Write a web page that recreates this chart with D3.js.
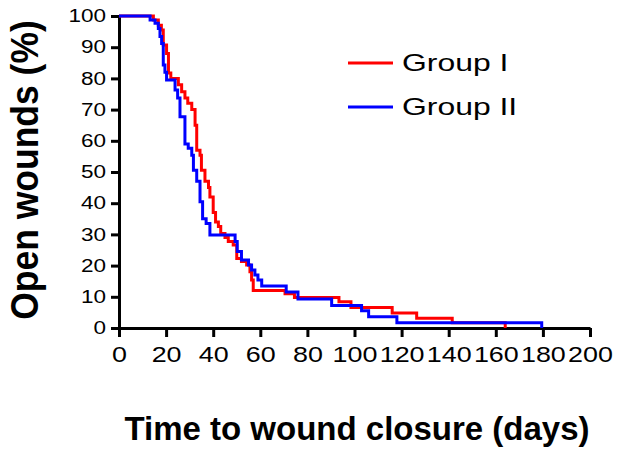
<!DOCTYPE html>
<html>
<head>
<meta charset="utf-8">
<script src="https://cdn.jsdelivr.net/npm/d3@7"></script>
<style>
  body { margin: 0; background: #fff; }
  svg { display: block; }
</style>
</head>
<body>
<script>
var width = 617;
var height = 453;
var font = "'Liberation Sans', Arial, sans-serif";

// time (days) at which the curve steps down to the given % of open wounds
var groupIDays = [0, 14.6, 16.7, 18, 18.8, 20.2, 21, 22, 25.2, 26.6, 28, 29.2, 30.9, 32.3, 33, 34.4, 35, 36.5, 38, 38.6, 40, 41, 42.2, 43.2, 45, 46.4, 48.5, 50, 52, 54.2, 55.6, 56.3, 57, 70.5, 74.5, 93.4, 98.5, 116, 126.4, 141.5, 164];
var groupIOpen = [100, 98.7, 97, 95.5, 90.7, 88, 81.7, 80, 78, 75.7, 73.7, 72, 70, 65, 57, 55.4, 50.6, 47, 45, 42, 37, 34, 32.5, 30.3, 29, 27.7, 26.6, 22.3, 21.3, 20.2, 18, 15.4, 12, 11, 9.8, 8.4, 6.6, 4.8, 3.1, 1.7, 0];

var groupIIDays = [0, 13.2, 15.3, 16.7, 17.4, 18.1, 18.8, 19.5, 20.2, 23.8, 24.9, 25.9, 28, 29.4, 30.9, 31.6, 33, 34.4, 35.5, 37, 38.6, 49.3, 50.2, 52, 55, 56.3, 57.7, 59, 60.6, 71, 76, 90.3, 103, 106, 118, 179.5];
var groupIIOpen = [100, 98.7, 97.7, 96, 93.4, 91.2, 84.3, 82, 79.5, 76.3, 73.7, 67.7, 59, 57.6, 55.4, 50.6, 47, 40.5, 35, 33.5, 29.8, 27.7, 24.5, 21.8, 20.2, 18.6, 17, 15.4, 13.5, 11.5, 9.3, 7.2, 5.5, 3.6, 1.7, 0];

var seriesNames = ["Group I", "Group II"];
var seriesColors = ["#ff0000", "#0000ff"];

var xTicks = [0, 20, 40, 60, 80, 100, 120, 140, 160, 180, 200];
var yTicks = [0, 10, 20, 30, 40, 50, 60, 70, 80, 90, 100];

var series = [
  { name: seriesNames[0], color: seriesColors[0], points: d3.zip(groupIDays, groupIOpen) },
  { name: seriesNames[1], color: seriesColors[1], points: d3.zip(groupIIDays, groupIIOpen) }
];

var svg = d3.select("body")
            .append("svg")
            .attr("width", width)
            .attr("height", height)
            .attr("font-family", font);

var x = d3.scaleLinear().domain([0, 200]).range([119, 590]);
var y = d3.scaleLinear().domain([0, 100]).range([328, 16]);

// text in the original is drawn wide, so stretch it sideways
var stretch = 1.25;

var xAxis = svg.append("g")
               .attr("transform", "translate(0," + y(0) + ")")
               .call(d3.axisBottom(x).tickValues(xTicks).tickSize(9).tickSizeOuter(0).tickPadding(10))
               .attr("font-family", font);

xAxis.selectAll("text")
     .attr("font-size", "21.5px")
     .attr("transform", "scale(" + stretch + ",1)");

var yAxis = svg.append("g")
               .attr("transform", "translate(" + x(0) + ",0)")
               .call(d3.axisLeft(y).tickValues(yTicks).tickSize(8).tickSizeOuter(0))
               .attr("font-family", font);

yAxis.selectAll("text")
     .attr("font-size", "18px")
     .attr("x", -13 / stretch)
     .attr("transform", "scale(" + stretch + ",1)");

svg.selectAll(".domain, .tick line")
   .attr("stroke", "#000")
   .attr("stroke-width", 3);

svg.selectAll(".tick text").attr("fill", "#000");

var line = d3.line()
             .x(function(d) { return x(d[0]); })
             .y(function(d) { return y(d[1]); })
             .curve(d3.curveStepAfter);

svg.selectAll("path.curve")
   .data(series)
   .enter()
   .append("path")
   .attr("class", "curve")
   .attr("d", function(d) { return line(d.points); })
   .attr("fill", "none")
   .attr("stroke", function(d) { return d.color; })
   .attr("stroke-width", 3);

// legend
var legend = svg.selectAll("g.legend")
                .data(series)
                .enter()
                .append("g")
                .attr("class", "legend")
                .attr("transform", function(d, i) { return "translate(348," + (63 + i * 44) + ")"; });

legend.append("line")
      .attr("x1", 0)
      .attr("x2", 45)
      .attr("stroke", function(d) { return d.color; })
      .attr("stroke-width", 3);

legend.append("text")
      .text(function(d) { return d.name; })
      .attr("x", 54 / 1.33)
      .attr("y", 8)
      .attr("font-size", "24px")
      .attr("transform", "scale(1.33,1)")
      .attr("fill", "#000");

// axis titles
svg.append("text")
   .text("Time to wound closure (days)")
   .attr("x", 357)
   .attr("y", 440)
   .attr("text-anchor", "middle")
   .attr("font-size", "33px")
   .attr("font-weight", "bold")
   .attr("fill", "#000");

svg.append("text")
   .text("Open wounds (%)")
   .attr("transform", "translate(38,170) scale(1.1,1) rotate(-90)")
   .attr("text-anchor", "middle")
   .attr("font-size", "35.5px")
   .attr("font-weight", "bold")
   .attr("fill", "#000");
</script>
</body>
</html>
